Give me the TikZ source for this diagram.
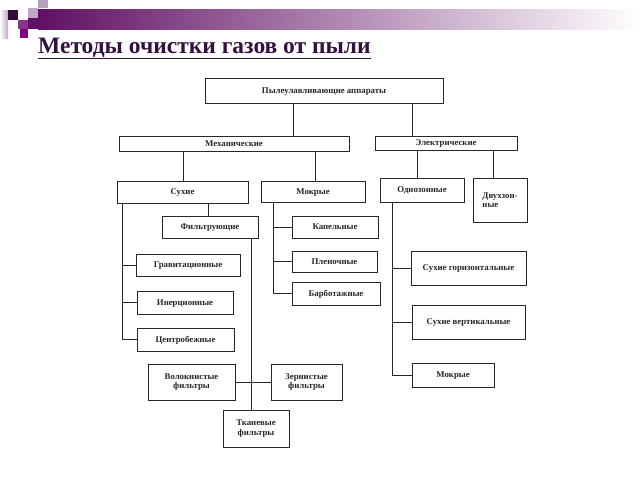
\documentclass[tikz,border=0pt]{standalone}
\usepackage{fontspec}
\setmainfont{Liberation Serif}
\usetikzlibrary{positioning}
\definecolor{barpurple}{RGB}{96,16,100}
\definecolor{barmid}{RGB}{160,128,170}
\definecolor{sqdark}{RGB}{58,8,64}
\definecolor{sqlight}{RGB}{196,164,200}
\definecolor{sqgray}{RGB}{184,160,188}
\definecolor{sqpurple}{RGB}{140,50,140}
\definecolor{sqmag}{RGB}{128,0,128}
\definecolor{titlecol}{RGB}{51,16,64}
\definecolor{linecol}{RGB}{40,40,40}

\begin{document}
\begin{tikzpicture}[
    x=1pt, y=-1pt,
    box/.style={rectangle, draw=linecol, line width=0.8pt, fill=white, inner sep=1pt, text height=5.8pt, text depth=0pt, text=black!85, font=\bfseries\fontsize{8.8}{9.6}\selectfont},
    twoline/.style={box, text height=, text depth=, align=center},
    link/.style={draw=linecol, line width=0.8pt}
]
\useasboundingbox (0,0) rectangle (640,480);

% Header decoration
\shade[left color=barpurple, middle color=barmid, right color=white] (38,9) rectangle (640,29);
\shade[left color=white, right color=sqlight] (0,10) rectangle (8,38);
\fill[sqdark] (8,10) rectangle (18,20);
\fill[sqlight] (28,8) rectangle (38,18);
\fill[sqgray] (38,0) rectangle (48,8);
\fill[sqpurple] (18,20) rectangle (28,29);
\fill[sqmag] (20,29) rectangle (28,38);
\fill[barpurple] (28,18) rectangle (38,29);

% Title
\node[anchor=base west, inner sep=0pt, text=titlecol, font=\bfseries\fontsize{23.5}{28}\selectfont] (title) at (38,53) {\underline{Методы очистки газов от пыли}};

% Top levels
\node[box, minimum width=238, minimum height=25] (top) at (324,90.5) {Пылеулавливающие аппараты};
\node[box, minimum width=230, minimum height=15] (mech) at (234,143.5) {Механические};
\node[box, minimum width=142, minimum height=14] (elec) at (446,143) {Электрические};

% Mechanical branch
\node[box, minimum width=131, minimum height=22] (dry) at (182.5,192) {Сухие};
\node[box, minimum width=104, minimum height=21] (wet) at (313,191.5) {Мокрые};
\node[box, minimum width=96, minimum height=22] (filt) at (210,227) {Фильтрующие};
\node[box, minimum width=104, minimum height=22] (grav) at (188,265) {Гравитационные};
\node[box, minimum width=96, minimum height=23] (iner) at (185,302.5) {Инерционные};
\node[box, minimum width=97, minimum height=23] (centr) at (185.5,339.5) {Центробежные};
\node[box, minimum width=86, minimum height=22] (drop) at (335,227) {Капельные};
\node[box, minimum width=85, minimum height=21] (film) at (334.5,261.5) {Пленочные};
\node[box, minimum width=88, minimum height=23] (bubble) at (336,293.5) {Барботажные};

% Filters
\node[twoline, minimum width=87, minimum height=36] (fibre) at (191.5,382) {Волокнистые\\фильтры};
\node[twoline, minimum width=71, minimum height=36] (grain) at (306.5,382) {Зернистые\\фильтры};
\node[twoline, minimum width=66, minimum height=37] (cloth) at (256,428.5) {Тканевые\\фильтры};

% Electrical branch
\node[box, minimum width=84, minimum height=24] (onezone) at (422,190) {Однозонные};
\node[twoline, minimum width=54, minimum height=44, align=left] (twozone) at (500,200) {Двухзон-\\ные};
\node[box, minimum width=115, minimum height=34] (dryhor) at (468.5,268) {Сухие горизонтальные};
\node[box, minimum width=113, minimum height=34] (dryver) at (468.5,322) {Сухие вертикальные};
\node[box, minimum width=82, minimum height=24] (wetel) at (453,375) {Мокрые};

% Links from top
\draw[link] (top.south -| 293,0) -- (mech.north -| 293,0);
\draw[link] (top.south -| 412,0) -- (elec.north -| 412,0);
\draw[link] (mech.south -| 183,0) -- (dry.north -| 183,0);
\draw[link] (mech.south -| 315,0) -- (wet.north -| 315,0);
\draw[link] (elec.south -| 417,0) -- (onezone.north -| 417,0);
\draw[link] (elec.south -| 493,0) -- (twozone.north -| 493,0);

% Dry branch
\draw[link] (dry.south -| 208,0) -- (filt.north -| 208,0);
\draw[link] (dry.south -| 122,0) |- (grav.west);
\draw[link] (dry.south -| 122,0) |- (iner.west);
\draw[link] (dry.south -| 122,0) |- (centr.west);

% Wet branch
\draw[link] (wet.south -| 273,0) |- (drop.west);
\draw[link] (wet.south -| 273,0) |- (film.west);
\draw[link] (wet.south -| 273,0) |- (bubble.west);

% Filter branch
\draw[link] (filt.south -| 251,0) -- (cloth.north -| 251,0);
\draw[link] (fibre.east) -- (grain.west);

% Electrical one-zone branch
\draw[link] (onezone.south -| 392,0) |- (dryhor.west);
\draw[link] (onezone.south -| 392,0) |- (dryver.west);
\draw[link] (onezone.south -| 392,0) |- (wetel.west);

\end{tikzpicture}
\end{document}
